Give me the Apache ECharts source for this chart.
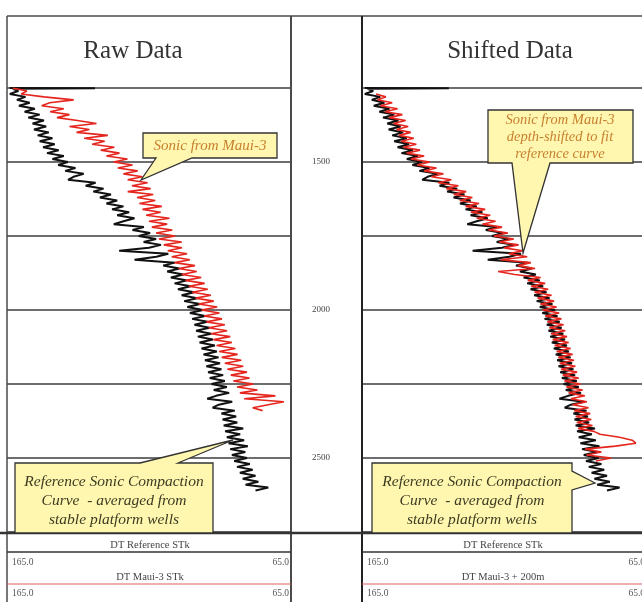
<!DOCTYPE html>
<html>
<head>
<meta charset="utf-8">
<script src="https://cdn.jsdelivr.net/npm/echarts@6.0.0/dist/echarts.min.js"></script>
<style>
  html, body { margin: 0; padding: 0; background: #fff; }
  #chart { width: 642px; height: 602px; }
</style>
</head>
<body>
<div id="chart"></div>
<script>
// depth track ticks
const depthMin = 1250;
const depthMax = 2750;
const depthStep = 250;
const depthLabels = [1500, 2000, 2500];
// DT scale (us/ft), drawn right to left
const dtLeft = 165;
const dtRight = 65;

// reference sonic compaction curve (black)
const refDepth = [1250, 1251, 1253, 1260, 1270, 1280, 1290, 1300, 1310, 1320, 1330, 1340, 1350, 1360, 1370, 1380, 1390, 1400, 1410, 1420, 1430, 1440, 1450, 1460, 1470, 1480, 1490, 1500, 1510, 1520, 1530, 1540, 1550, 1560, 1570, 1580, 1590, 1600, 1610, 1620, 1630, 1640, 1650, 1660, 1670, 1680, 1690, 1700, 1710, 1720, 1730, 1740, 1750, 1760, 1770, 1780, 1790, 1800, 1810, 1820, 1830, 1840, 1850, 1860, 1870, 1880, 1890, 1900, 1910, 1920, 1930, 1940, 1950, 1960, 1970, 1980, 1990, 2000, 2010, 2020, 2030, 2040, 2050, 2060, 2070, 2080, 2090, 2100, 2110, 2120, 2130, 2140, 2150, 2160, 2170, 2180, 2190, 2200, 2210, 2220, 2230, 2240, 2250, 2260, 2270, 2280, 2290, 2300, 2310, 2320, 2330, 2340, 2350, 2360, 2370, 2380, 2390, 2400, 2410, 2420, 2430, 2440, 2450, 2460, 2470, 2480, 2490, 2500, 2510, 2520, 2530, 2540, 2550, 2560, 2570, 2580, 2590, 2600, 2610];
const refDT = [164, 134, 163, 161, 164, 158.5, 161.5, 157, 160.8, 155.2, 158.8, 153.5, 157.5, 152, 156, 151.2, 155.5, 150.3, 154.2, 149, 153.5, 148.2, 152.3, 146.8, 150.9, 145, 149, 143.6, 147, 140.9, 144.5, 138, 141.6, 143.5, 133.8, 137.3, 131, 134.6, 128.4, 132.3, 126.2, 130, 124, 128, 122, 126.2, 120.1, 124, 127.4, 116.8, 120.8, 114.6, 118.6, 112.5, 116.9, 110.8, 115, 125.5, 108.2, 112.4, 120.1, 105.9, 110, 104.3, 108.6, 102.9, 107.3, 101.5, 106, 100.3, 104.8, 99.1, 103.5, 98, 102.6, 97, 101.5, 96, 100.6, 95.2, 99.8, 94.4, 99, 93.7, 98.4, 93.1, 97.8, 92.5, 97.2, 91.8, 96.5, 91.1, 95.8, 90.5, 95.3, 90, 94.8, 89.5, 94.2, 88.9, 93.6, 88.3, 93, 87.6, 92.2, 86.8, 91.4, 94.5, 85.7, 90.4, 92.6, 84.8, 89.5, 84.3, 89.1, 83.9, 88.7, 81.8, 88.2, 82.9, 87.6, 81.5, 87, 80.2, 86.4, 81.1, 85.8, 80.5, 85, 79.5, 84, 78.5, 83, 77.5, 82, 76.5, 81, 73, 77.5];

// Maui-3 sonic, raw depths (red, left track)
const rawDepth = [1250, 1260, 1270, 1280, 1290, 1300, 1310, 1320, 1330, 1340, 1350, 1360, 1370, 1380, 1390, 1400, 1410, 1420, 1430, 1440, 1450, 1460, 1470, 1480, 1490, 1500, 1510, 1520, 1530, 1540, 1550, 1560, 1570, 1580, 1590, 1600, 1610, 1620, 1630, 1640, 1650, 1660, 1670, 1680, 1690, 1700, 1710, 1720, 1730, 1740, 1750, 1760, 1770, 1780, 1790, 1800, 1810, 1820, 1830, 1840, 1850, 1860, 1870, 1880, 1890, 1900, 1910, 1920, 1930, 1940, 1950, 1960, 1970, 1980, 1990, 2000, 2010, 2020, 2030, 2040, 2050, 2060, 2070, 2080, 2090, 2100, 2110, 2120, 2130, 2140, 2150, 2160, 2170, 2180, 2190, 2200, 2210, 2220, 2230, 2240, 2250, 2260, 2270, 2280, 2290, 2300, 2310, 2320, 2330, 2340];
const rawDT = [163, 158, 160, 152, 141.5, 150, 152.8, 145, 149.8, 143, 147.4, 140.2, 133.5, 143, 136, 140.5, 129.5, 137.8, 130.6, 135, 127.2, 132, 125.4, 130, 122.6, 127.5, 120.8, 126, 119, 124, 117.3, 122.5, 115.5, 121, 114.4, 122.5, 113.5, 119.2, 112.8, 118.4, 110.5, 117.3, 110.9, 116, 107.8, 115, 108.6, 114, 106.8, 112.5, 105.8, 111.5, 103.5, 109.8, 103.4, 108.4, 101.6, 107, 100.6, 106, 98.8, 104.6, 98.2, 103.5, 96.6, 102.2, 95.4, 101, 94.3, 99.8, 93.2, 98.6, 92.2, 97.5, 91, 96.5, 90.2, 95.6, 89.3, 94.8, 88.3, 94, 87.5, 93.2, 86.4, 92.3, 85.8, 91.2, 84.6, 90.3, 83.8, 89.4, 82.5, 88.3, 81.8, 87.4, 80.5, 86.2, 79.6, 85.3, 78.2, 84, 76.8, 83, 70.5, 81.5, 67.5, 73, 78.5, 75];

// Maui-3 sonic, depth-shifted (red, right track)
const shiftDepth = [1270, 1280, 1290, 1300, 1310, 1320, 1330, 1340, 1350, 1360, 1370, 1380, 1390, 1400, 1410, 1420, 1430, 1440, 1450, 1460, 1470, 1480, 1490, 1500, 1510, 1520, 1530, 1540, 1550, 1560, 1570, 1580, 1590, 1600, 1610, 1620, 1630, 1640, 1650, 1660, 1670, 1680, 1690, 1700, 1710, 1720, 1730, 1740, 1750, 1760, 1770, 1780, 1790, 1800, 1810, 1820, 1830, 1840, 1850, 1860, 1870, 1880, 1890, 1900, 1910, 1920, 1930, 1940, 1950, 1960, 1970, 1980, 1990, 2000, 2010, 2020, 2030, 2040, 2050, 2060, 2070, 2080, 2090, 2100, 2110, 2120, 2130, 2140, 2150, 2160, 2170, 2180, 2190, 2200, 2210, 2220, 2230, 2240, 2250, 2260, 2270, 2280, 2290, 2300, 2310, 2320, 2330, 2340, 2350, 2360, 2370, 2380, 2390, 2400, 2410, 2420, 2430, 2440, 2450, 2460, 2470, 2480, 2490, 2500, 2510];
const shiftDT = [160, 156.5, 159.5, 154.2, 158.5, 152.3, 156.8, 150.6, 155.3, 149.4, 153.8, 148.5, 152.7, 147.6, 151.8, 146.5, 151, 145.6, 150.2, 144.3, 149, 142.8, 147.5, 140.8, 145.3, 138.4, 142.8, 135.9, 140.2, 133.1, 137.8, 130.6, 134.9, 127.8, 132.2, 125.6, 130.1, 123.2, 128, 121, 126.1, 119.2, 124, 117.3, 122, 115, 119.8, 112.9, 117.9, 110.8, 116, 109.1, 114.2, 107.6, 112.6, 106, 115.5, 104.7, 109.3, 103.2, 116.4, 110.5, 101.2, 105.8, 99.6, 104.6, 98.5, 103.4, 97.3, 102.3, 96.4, 101.3, 95.5, 100.4, 94.6, 99.6, 93.8, 98.8, 93, 98.1, 92.4, 97.5, 91.8, 96.9, 91.2, 96.2, 90.5, 95.5, 89.8, 94.9, 89.3, 94.4, 88.8, 93.9, 88.2, 93.3, 87.6, 92.7, 87, 92, 86.2, 91.2, 85.4, 90.4, 84.7, 89.8, 84.1, 89.2, 83.5, 88.7, 83.1, 88.3, 82.7, 87.8, 82.2, 80, 73, 68.5, 67.2, 74.5, 85.3, 79.5, 84.8, 76, 81.5];

const pairs = (xs, ys) => {
  const n = Math.min(xs.length, ys.length);
  const out = [];
  for (let i = 0; i < n; i++) out.push([xs[i], ys[i]]);
  return out;
};

const myChart = echarts.init(document.getElementById('chart'));

const serif = '"Liberation Serif", "DejaVu Serif", serif';
const frame = '#4a4a4a';
const black = '#111111';
const red = '#e5261f';
const yellow = '#fff6b0';

const hline = (x1, x2, y, color, w) => ({ type: 'line', z: 50, shape: { x1: x1, y1: y, x2: x2, y2: y }, style: { stroke: color, lineWidth: w } });
const vline = (x, y1, y2, color, w) => ({ type: 'line', z: 50, shape: { x1: x, y1: y1, x2: x, y2: y2 }, style: { stroke: color, lineWidth: w } });
const label = (x, y, text, font, color, align) => ({
  type: 'text', z: 120, x: x, y: y,
  style: { text: text, font: font, fill: color, align: align || 'center', verticalAlign: 'middle' }
});
const callout = (points) => ({
  type: 'polygon', z: 110, shape: { points: points },
  style: { fill: yellow, stroke: '#333', lineWidth: 1.3 }
});

const trackX = (idx) => ({
  gridIndex: idx, type: 'value', min: dtRight, max: dtLeft, inverse: true,
  axisLine: { show: false }, axisTick: { show: false }, axisLabel: { show: false }, splitLine: { show: false }
});
const trackY = (idx, grid) => ({
  gridIndex: idx, type: 'value', min: depthMin, max: depthMax, interval: depthStep, inverse: true,
  axisLine: { show: false }, axisTick: { show: false }, axisLabel: { show: false },
  splitLine: { show: grid, lineStyle: { color: '#3c3c3c', width: 1.5 } }
});

const option = {
  animation: false,
  backgroundColor: '#fff',
  grid: [
    { left: 7, top: 88, width: 284, height: 444 },
    { left: 291, top: 88, width: 71, height: 444 },
    { left: 362, top: 88, width: 284, height: 444 }
  ],
  xAxis: [trackX(0), trackX(1), trackX(2)],
  yAxis: [
    trackY(0, true),
    {
      gridIndex: 1, type: 'value', min: depthMin, max: depthMax, interval: depthStep, inverse: true,
      axisLine: { show: false }, axisTick: { show: false }, splitLine: { show: false },
      axisLabel: {
        inside: true, margin: 21, color: '#444', fontFamily: serif, fontSize: 9,
        formatter: (v) => depthLabels.indexOf(v) >= 0 ? String(v) : ''
      }
    },
    trackY(2, true)
  ],
  series: [
    {
      name: 'DT Reference', type: 'line', xAxisIndex: 0, yAxisIndex: 0,
      symbol: 'none', data: pairs(refDT, refDepth),
      lineStyle: { color: black, width: 2 }
    },
    {
      name: 'DT Maui-3', type: 'line', xAxisIndex: 0, yAxisIndex: 0,
      symbol: 'none', data: pairs(rawDT, rawDepth),
      lineStyle: { color: red, width: 1.6 }
    },
    {
      name: 'DT Reference', type: 'line', xAxisIndex: 2, yAxisIndex: 2,
      symbol: 'none', data: pairs(refDT, refDepth),
      lineStyle: { color: black, width: 2 }
    },
    {
      name: 'DT Maui-3 shifted', type: 'line', xAxisIndex: 2, yAxisIndex: 2,
      symbol: 'none', data: pairs(shiftDT, shiftDepth),
      lineStyle: { color: red, width: 1.6 }
    }
  ],
  graphic: {
    elements: [
      // track frames
      hline(7, 642, 16, frame, 1.5),
      vline(7, 16, 602, frame, 1.5),
      vline(291, 16, 602, frame, 2),
      vline(362, 16, 602, '#222', 2),
      hline(0, 642, 533, '#333', 2.5),

      // headers
      label(133, 51, 'Raw Data', '25px ' + serif, '#333'),
      label(510, 51, 'Shifted Data', '25px ' + serif, '#333'),

      // bottom scale headers, left track
      label(150, 545, 'DT Reference STk', '10.5px ' + serif, '#444'),
      hline(7, 291, 552, '#333', 1.5),
      label(12, 562, '165.0', '9.5px ' + serif, '#555', 'left'),
      label(289, 562, '65.0', '9.5px ' + serif, '#555', 'right'),
      label(150, 577, 'DT Maui-3 STk', '10.5px ' + serif, '#444'),
      hline(7, 291, 584, '#e06060', 1.2),
      label(12, 593, '165.0', '9.5px ' + serif, '#555', 'left'),
      label(289, 593, '65.0', '9.5px ' + serif, '#555', 'right'),

      // bottom scale headers, right track
      label(503, 545, 'DT Reference STk', '10.5px ' + serif, '#444'),
      hline(362, 642, 552, '#333', 1.5),
      label(367, 562, '165.0', '9.5px ' + serif, '#555', 'left'),
      label(645, 562, '65.0', '9.5px ' + serif, '#555', 'right'),
      label(503, 577, 'DT Maui-3 + 200m', '10.5px ' + serif, '#444'),
      hline(362, 642, 584, '#e06060', 1.2),
      label(367, 593, '165.0', '9.5px ' + serif, '#555', 'left'),
      label(645, 593, '65.0', '9.5px ' + serif, '#555', 'right'),

      // callouts
      callout([[143, 133], [277, 133], [277, 158], [192, 158], [141, 180], [156, 158], [143, 158]]),
      label(210, 146, 'Sonic from Maui-3', 'italic 15px ' + serif, '#c7812e'),

      callout([[488, 110], [633, 110], [633, 163], [550, 163], [523, 253], [512, 163], [488, 163]]),
      label(560, 120, 'Sonic from Maui-3', 'italic 14.5px ' + serif, '#c7812e'),
      label(560, 137, 'depth-shifted to fit', 'italic 14.5px ' + serif, '#c7812e'),
      label(560, 154, 'reference curve', 'italic 14.5px ' + serif, '#c7812e'),

      callout([[15, 463], [140, 463], [233, 440], [178, 463], [213, 463], [213, 533], [15, 533]]),
      label(114, 482, 'Reference Sonic Compaction', 'italic 15.5px ' + serif, '#3b3b22'),
      label(114, 501, 'Curve  - averaged from', 'italic 15.5px ' + serif, '#3b3b22'),
      label(114, 520, 'stable platform wells', 'italic 15.5px ' + serif, '#3b3b22'),

      callout([[372, 463], [572, 463], [572, 471], [595, 483], [572, 490], [572, 533], [372, 533]]),
      label(472, 482, 'Reference Sonic Compaction', 'italic 15.5px ' + serif, '#3b3b22'),
      label(472, 501, 'Curve  - averaged from', 'italic 15.5px ' + serif, '#3b3b22'),
      label(472, 520, 'stable platform wells', 'italic 15.5px ' + serif, '#3b3b22')
    ]
  }
};

myChart.setOption(option);
</script>
</body>
</html>
